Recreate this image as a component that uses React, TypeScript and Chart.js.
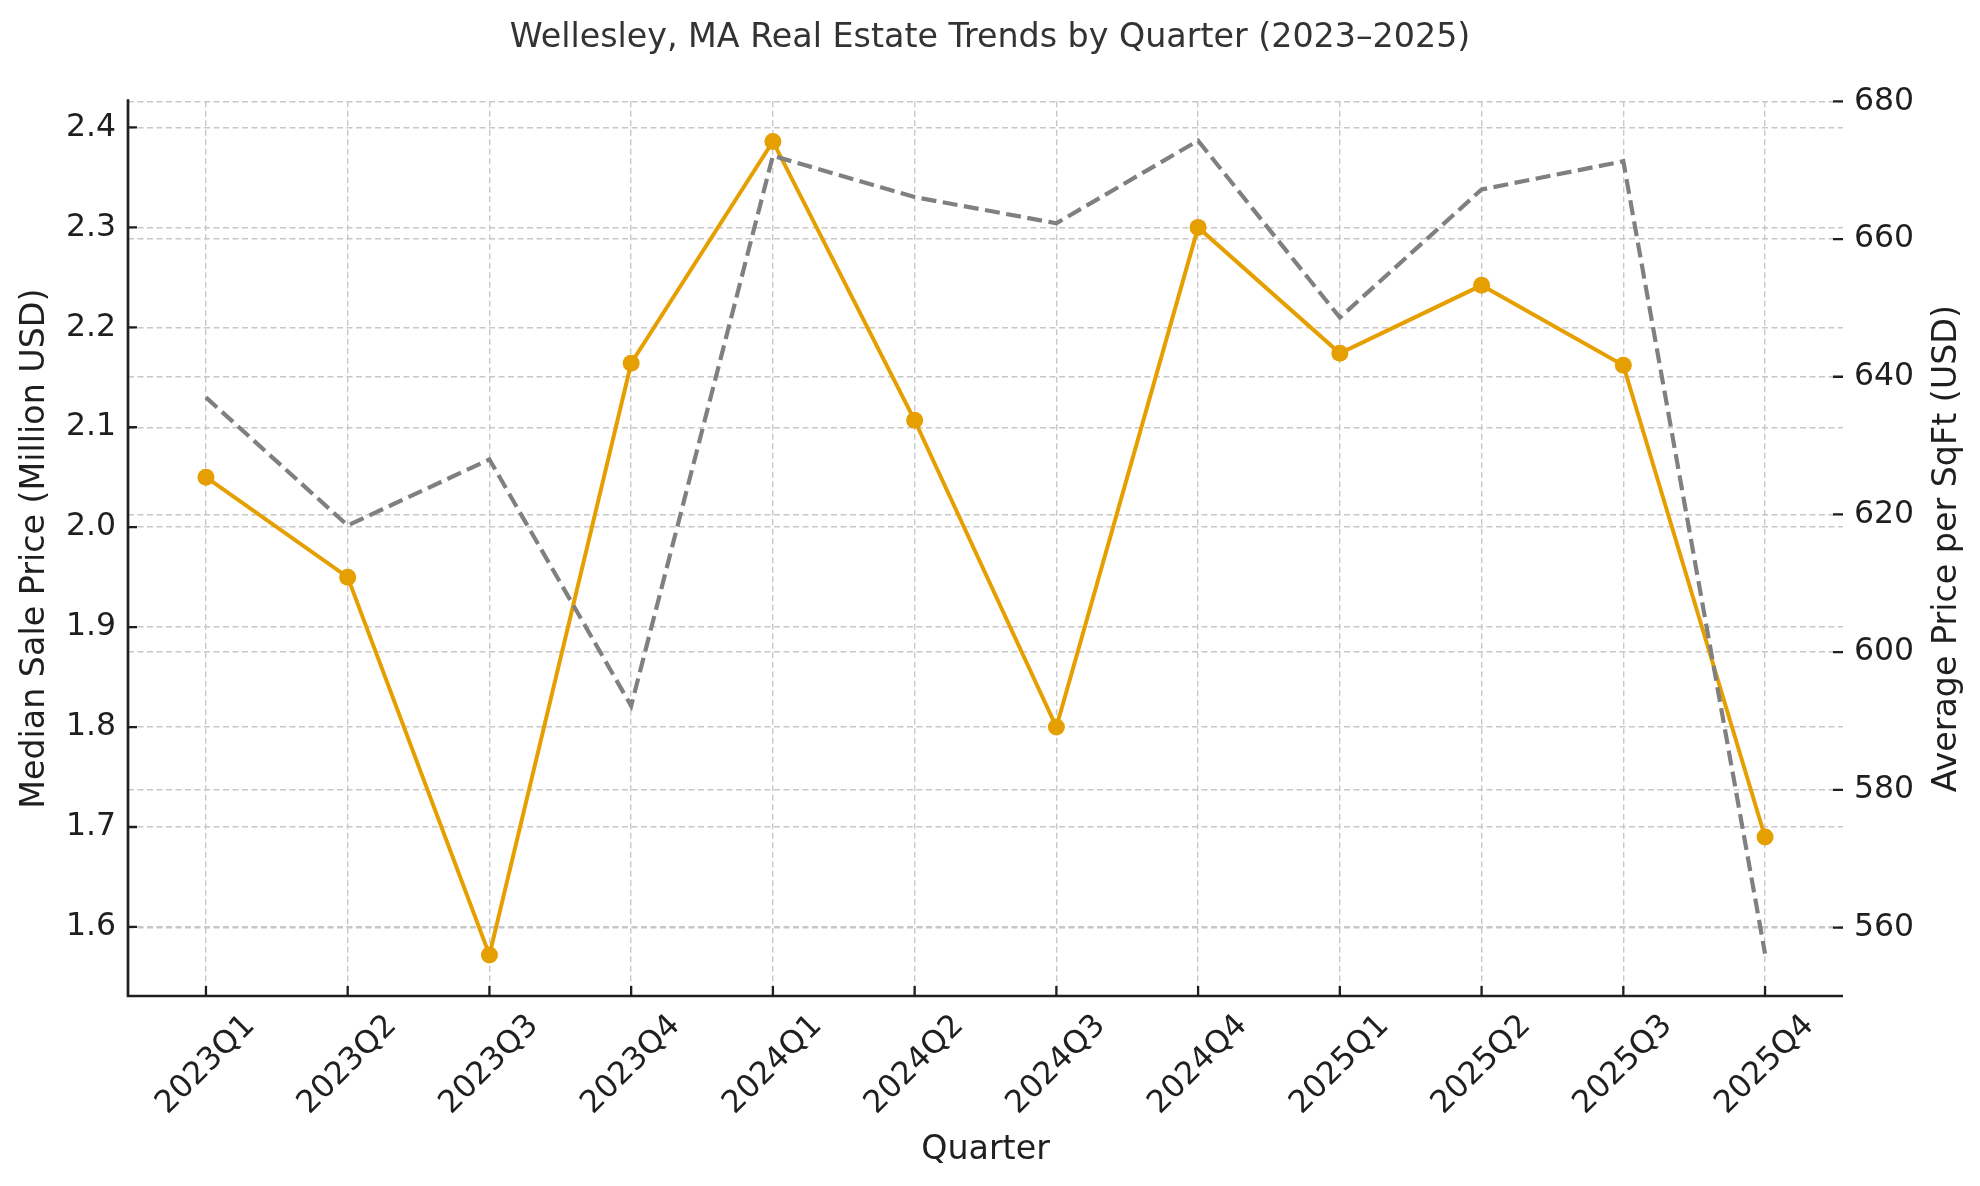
import { useEffect, useRef } from 'react'
import { Chart, registerables } from 'chart.js'

Chart.register(...registerables)

const quarters = [
  '2023Q1', '2023Q2', '2023Q3', '2023Q4',
  '2024Q1', '2024Q2', '2024Q3', '2024Q4',
  '2025Q1', '2025Q2', '2025Q3', '2025Q4',
]
// Median sale price, million USD (left axis)
const medianPrice = [2.05, 1.95, 1.572, 2.164, 2.386, 2.107, 1.8, 2.3, 2.174, 2.242, 2.162, 1.69]
// Average price per square foot, USD (right axis)
const pricePerSqft = [637.0, 618.4, 628.0, 592.2, 672.1, 666.1, 662.3, 674.3, 648.6, 667.2, 671.3, 556.2]

const TITLE = 'Wellesley, MA Real Estate Trends by Quarter (2023–2025)'
const X_TITLE = 'Quarter'
const LEFT_TITLE = 'Median Sale Price (Million USD)'
const RIGHT_TITLE = 'Average Price per SqFt (USD)'

const FONT = "'DejaVu Sans', sans-serif"
const INK = '#1f1f1f'
const GRID = '#c8c8c8'

// spines, inward tick marks, rotated x labels and axis titles (matplotlib look)
const framePlugin = {
  id: 'frame',
  afterDraw(chart: any) {
    const { ctx, chartArea: a, scales } = chart
    const xs = scales.x
    const yl = scales.y
    const yr = scales.y1
    ctx.save()
    ctx.setLineDash([])
    ctx.strokeStyle = INK

    ctx.lineWidth = 2.7
    ctx.beginPath()
    ctx.moveTo(a.left, a.top - 2)
    ctx.lineTo(a.left, a.bottom)
    ctx.lineTo(a.right, a.bottom)
    ctx.stroke()

    ctx.lineWidth = 2.3
    ctx.beginPath()
    quarters.forEach((_, i) => {
      const px = xs.getPixelForValue(i)
      ctx.moveTo(px, a.bottom)
      ctx.lineTo(px, a.bottom - 10)
    })
    yl.ticks.forEach((t: any) => {
      const py = yl.getPixelForValue(t.value)
      ctx.moveTo(a.left, py)
      ctx.lineTo(a.left + 9, py)
    })
    yr.ticks.forEach((t: any) => {
      const py = yr.getPixelForValue(t.value)
      ctx.moveTo(a.right, py)
      ctx.lineTo(a.right - 10, py)
    })
    ctx.stroke()

    ctx.fillStyle = INK
    ctx.font = `31.5px ${FONT}`
    ctx.textAlign = 'center'
    ctx.textBaseline = 'middle'
    quarters.forEach((q, i) => {
      ctx.save()
      ctx.translate(xs.getPixelForValue(i), a.bottom + 69)
      ctx.rotate(-Math.PI / 4)
      ctx.fillText(q, 0, 0)
      ctx.restore()
    })

    ctx.font = `33.3px ${FONT}`
    ctx.textBaseline = 'alphabetic'
    ctx.fillText(X_TITLE, (a.left + a.right) / 2, a.bottom + 163)

    const cy = (a.top + a.bottom) / 2
    ctx.textBaseline = 'middle'
    ctx.save()
    ctx.translate(35, cy)
    ctx.rotate(-Math.PI / 2)
    ctx.fillText(LEFT_TITLE, 0, 0)
    ctx.restore()
    ctx.save()
    ctx.translate(1947, cy)
    ctx.rotate(-Math.PI / 2)
    ctx.fillText(RIGHT_TITLE, 0, 0)
    ctx.restore()

    ctx.restore()
  },
}

const App = () => {
  const canvasRef = useRef<HTMLCanvasElement | null>(null)
  const chartRef = useRef<Chart | null>(null)

  useEffect(() => {
    const ctx = canvasRef.current?.getContext('2d')
    if (!ctx) return
    if (chartRef.current) chartRef.current.destroy()

    chartRef.current = new Chart(ctx, {
      type: 'line',
      data: {
        labels: quarters,
        datasets: [
          {
            label: 'Avg Price per SqFt',
            data: quarters.map((_, i) => ({ x: i, y: pricePerSqft[i] })),
            yAxisID: 'y1',
            borderColor: '#808080',
            borderWidth: 4.2,
            borderDash: [15, 6.5],
            pointRadius: 0,
            tension: 0,
            order: 1,
          },
          {
            label: 'Median Sale Price',
            data: quarters.map((_, i) => ({ x: i, y: medianPrice[i] })),
            yAxisID: 'y',
            borderColor: '#E69F00',
            backgroundColor: '#E69F00',
            borderWidth: 4,
            pointRadius: 8.5,
            pointBackgroundColor: '#E69F00',
            pointBorderWidth: 0,
            tension: 0,
            order: 2,
          },
        ],
      },
      options: {
        responsive: false,
        animation: false,
        events: [],
        layout: { padding: 0 },
        plugins: {
          legend: { display: false },
          tooltip: { enabled: false },
          title: {
            display: true,
            text: TITLE,
            color: '#333333',
            font: { family: FONT, size: 33.3, weight: 'normal' },
            padding: { top: 18, bottom: 43.4 },
          },
        },
        scales: {
          x: {
            type: 'linear',
            min: -0.55,
            max: 11.55,
            afterBuildTicks: (scale: any) => {
              scale.ticks = quarters.map((_, i) => ({ value: i }))
            },
            afterFit: (scale: any) => {
              scale.height = 190
            },
            ticks: { display: false },
            grid: { color: GRID, lineWidth: 1.4, drawTicks: false },
            border: { display: false, dash: [6, 3.5] },
          },
          y: {
            position: 'left',
            min: 1.5309,
            max: 2.4261,
            afterFit: (scale: any) => {
              scale.width = 128
            },
            ticks: {
              stepSize: 0.1,
              includeBounds: false,
              padding: 12,
              color: INK,
              font: { family: FONT, size: 31.5 },
              callback: (v: any) => Number(v).toFixed(1),
            },
            grid: { color: GRID, lineWidth: 1.4, drawTicks: false },
            border: { display: false, dash: [6, 3.5] },
          },
          y1: {
            position: 'right',
            min: 550.06,
            max: 680,
            afterFit: (scale: any) => {
              scale.width = 137
            },
            ticks: {
              stepSize: 20,
              includeBounds: false,
              padding: 11,
              color: INK,
              font: { family: FONT, size: 31.5 },
              callback: (v: any) => String(Math.round(Number(v))),
            },
            grid: { color: GRID, lineWidth: 1.4, drawTicks: false },
            border: { display: false, dash: [6, 3.5] },
          },
        },
      },
      plugins: [framePlugin],
    } as any)

    return () => {
      if (chartRef.current) {
        chartRef.current.destroy()
        chartRef.current = null
      }
    }
  }, [])

  return (
    <div style={{ position: 'absolute', left: 0, top: 0, width: 1980, height: 1186, background: '#fff' }}>
      <canvas ref={canvasRef} width="1980" height="1186" style={{ display: 'block' }}></canvas>
    </div>
  )
}

export default App
